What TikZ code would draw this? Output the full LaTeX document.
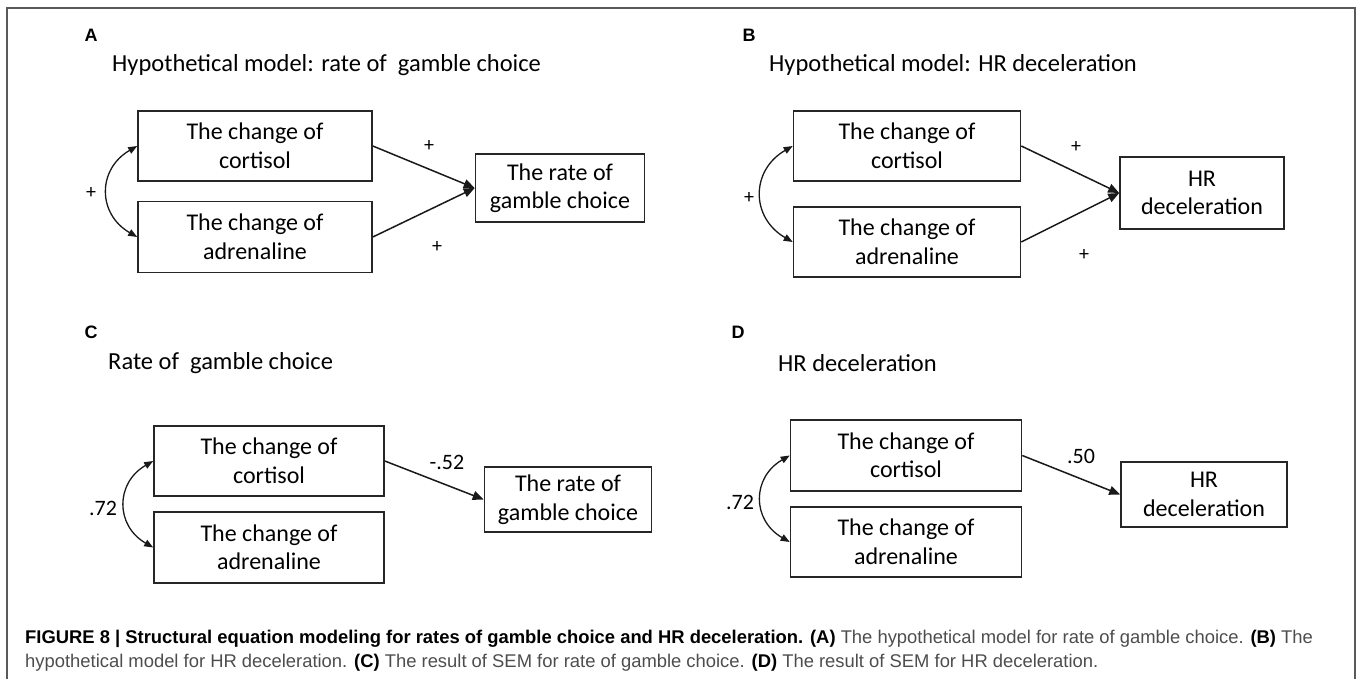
\documentclass[tikz,border=0pt]{standalone}
\usepackage{fontspec}
\setmainfont{Liberation Sans}
\newfontfamily\calfont{Carlito}
\usetikzlibrary{arrows.meta}
\definecolor{capgray}{HTML}{4D4D4D}
\newcommand{\capbf}[1]{\textcolor{black}{\textbf{#1}}}

\begin{document}
\begin{tikzpicture}[x=1pt, y=-1pt]
  \def\boxheight{70pt}
  \def\boxlinewidth{1.6pt}
  \tikzstyle{var} = [rectangle, draw=black!85, line width=\boxlinewidth, inner sep=0pt, align=center, minimum height=\boxheight, font=\calfont\fontsize{24}{28.5}\selectfont]
  \tikzstyle{effect} = [line width=1.5pt, black!90, -{Triangle[length=11pt, width=9pt]}]
  \tikzstyle{covar} = [line width=1.3pt, black!90, {Triangle[length=9pt, width=7pt]}-{Triangle[length=9pt, width=7pt]}]
  \tikzstyle{heading} = [anchor=west, inner sep=0pt, font=\calfont\fontsize{24.5}{28}\selectfont]
  \tikzstyle{coef} = [inner sep=0pt, font=\calfont\fontsize{22}{26}\selectfont]
  \tikzstyle{sign} = [inner sep=0pt, font=\calfont\fontsize{20}{24}\selectfont]
  \tikzstyle{panel} = [inner sep=0pt, font=\bfseries\fontsize{18}{22}\selectfont]
  \tikzstyle{captext} = [anchor=base west, inner sep=0pt, text=capgray, font=\fontsize{18.4}{22}\selectfont]

  \useasboundingbox (0,0) rectangle (1357,679);
  \draw[line width=1.5pt, black!65] (7,679) -- (7,8) -- (1355,8) -- (1355,679);

  \begin{scope}[shift={(91,35)}]
    \node[panel] (lblA) at (0,0) {A};
    \node[heading] (titleA) at (21,30) {Hypothetical model: rate of \ gamble choice};
    \node[var, minimum width=234pt] (cortA) at (164,111) {The change of\\cortisol};
    \node[var, minimum width=234pt, minimum height=71pt] (adrA) at (164,202) {The change of\\adrenaline};
    \node[var, minimum width=169pt, minimum height=68pt] (rateA) at (469,153) {The rate of\\gamble choice};

    \draw[effect] (cortA.east) -- (rateA.west);
    \draw[effect] (adrA.east) -- (rateA.west);
    \draw[covar] (cortA.west) to[bend right=60, looseness=1.3] (adrA.west);

    \node[sign] (pA1) at (338,111) {+};
    \node[sign] (pA2) at (346,212) {+};
    \node[sign] (pA3) at (0,158) {+};
  \end{scope}

  \begin{scope}[shift={(749,35)}]
    \node[panel] (lblB) at (0,0) {B};
    \node[heading] (titleB) at (20,30) {Hypothetical model: HR deceleration};
    \node[var, minimum width=227pt] (cortB) at (158,111) {The change of\\cortisol};
    \node[var, minimum width=227pt] (adrB) at (158,207) {The change of\\adrenaline};
    \node[var, minimum width=164pt, minimum height=72pt] (hrB) at (453,158) {HR\\deceleration};

    \draw[effect] (cortB.east) -- (hrB.west);
    \draw[effect] (adrB.east) -- (hrB.west);
    \draw[covar] (cortB.west) to[bend right=60, looseness=1.3] (adrB.west);

    \node[sign] (pB1) at (327,112) {+};
    \node[sign] (pB2) at (335,220) {+};
    \node[sign] (pB3) at (0,163) {+};
  \end{scope}

  \begin{scope}[shift={(91,332)}]
    \node[panel] (lblC) at (0,0) {C};
    \node[heading] (titleC) at (17,31) {Rate of \ gamble choice};
    \node[var, minimum width=230pt] (cortC) at (178,129) {The change of\\cortisol};
    \node[var, minimum width=230pt, minimum height=71pt] (adrC) at (178,215.5) {The change of\\adrenaline};
    \node[var, minimum width=167pt, minimum height=65pt] (rateC) at (477,167.5) {The rate of\\gamble choice};

    \draw[effect] (cortC.east) -- (rateC.west);
    \draw[covar] (cortC.west) to[bend right=60, looseness=1.3] (adrC.west);

    \node[coef] (bC) at (356,130) {-.52};
    \node[coef] (rC) at (12,176) {.72};
  \end{scope}

  \begin{scope}[shift={(738,332)}]
    \node[panel] (lblD) at (0,0) {D};
    \node[heading] (titleD) at (40,31) {HR deceleration};
    \node[var, minimum width=231pt, minimum height=71pt] (cortD) at (168,123.5) {The change of\\cortisol};
    \node[var, minimum width=231pt] (adrD) at (168,210) {The change of\\adrenaline};
    \node[var, minimum width=166pt, minimum height=65pt] (hrD) at (466,162.5) {HR\\deceleration};

    \draw[effect] (cortD.east) -- (hrD.west);
    \draw[covar] (cortD.west) to[bend right=60, looseness=1.3] (adrD.west);

    \node[coef] (bD) at (343,124) {.50};
    \node[coef] (rD) at (2,170) {.72};
  \end{scope}

  \node[captext] (cap1) at (25,643) {\capbf{FIGURE 8 | Structural equation modeling for rates of gamble choice and HR deceleration. (A)} The hypothetical model for rate of gamble choice. \capbf{(B)} The};
  \node[captext] (cap2) at (25,667.5) {hypothetical model for HR deceleration. \capbf{(C)} The result of SEM for rate of gamble choice. \capbf{(D)} The result of SEM for HR deceleration.};
\end{tikzpicture}
\end{document}
